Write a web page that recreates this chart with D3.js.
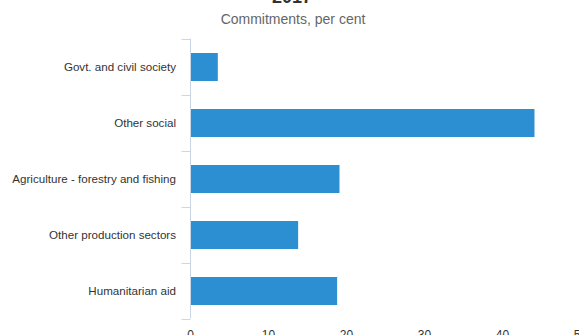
<!DOCTYPE html>
<html>
<head>
<meta charset="utf-8">
<script src="https://cdn.jsdelivr.net/npm/d3@7"></script>
<style>
  html, body { margin: 0; padding: 0; background: #fff; }
  svg { display: block; font-family: "Liberation Sans", Arial, sans-serif; }
</style>
</head>
<body>
<svg id="chart" width="579" height="335"></svg>
<script>
const categories = ["Govt. and civil society", "Other social", "Agriculture - forestry and fishing", "Other production sectors", "Humanitarian aid"];
const values = [3.5, 44.1, 19.1, 13.8, 18.8];
const xTicks = [0, 10, 20, 30, 40, 50];
const titleText = "2017";
const subtitleText = "Commitments, per cent";

(function () {
const svg = d3.select("#chart");
const pLeft = 190.5, pRight = 580.5, pTop = 38.5, pBottom = 318.5;

const x = d3.scaleLinear().domain([0, 50]).range([pLeft, pRight]);
const y = d3.scaleBand().domain(categories).range([pTop, pBottom]).paddingInner(0.5).paddingOuter(0.25);

// Title
svg.append("text").attr("x", 292).attr("y", 3).attr("text-anchor", "middle")
  .attr("font-size", 18).attr("font-weight", "bold").attr("fill", "#333").text(titleText);
svg.append("text").attr("x", 293).attr("y", 23.5).attr("text-anchor", "middle")
  .attr("font-size", 14).attr("fill", "#666").text(subtitleText);

// Bars
svg.append("g").selectAll("rect").data(categories).join("rect")
  .attr("x", x(0))
  .attr("y", d => Math.round(y(d)))
  .attr("width", (d, i) => x(values[i]) - x(0))
  .attr("height", y.bandwidth())
  .attr("fill", "#2b8fd1");

// Category axis line and ticks at band boundaries
const ax = svg.append("g");
ax.append("line").attr("x1", pLeft).attr("x2", pLeft).attr("y1", pTop).attr("y2", pBottom)
  .attr("stroke", "#ccd6eb").attr("stroke-width", 1);
const step = (pBottom - pTop) / categories.length;
const boundaries = d3.range(categories.length + 1).map(i => pTop + i * step);
ax.selectAll("line.tick").data(boundaries).join("line").attr("class", "tick")
  .attr("x1", pLeft - 9).attr("x2", pLeft).attr("y1", d => Math.round(d) + 0.5).attr("y2", d => Math.round(d) + 0.5)
  .attr("stroke", "#ccd6eb").attr("stroke-width", 1);

// Category labels
svg.append("g").selectAll("text").data(categories).join("text")
  .attr("x", 176).attr("y", d => y(d) + y.bandwidth() / 2 + 4)
  .attr("text-anchor", "end").attr("font-size", 11.6).attr("fill", "#333")
  .text(d => d);

// Value axis tick labels (no line)
svg.append("g").selectAll("text").data(xTicks).join("text")
  .attr("x", d => x(d)).attr("y", 339)
  .attr("text-anchor", "middle").attr("font-size", 12).attr("fill", "#333")
  .text(d => d);
})();
</script>
</body>
</html>
